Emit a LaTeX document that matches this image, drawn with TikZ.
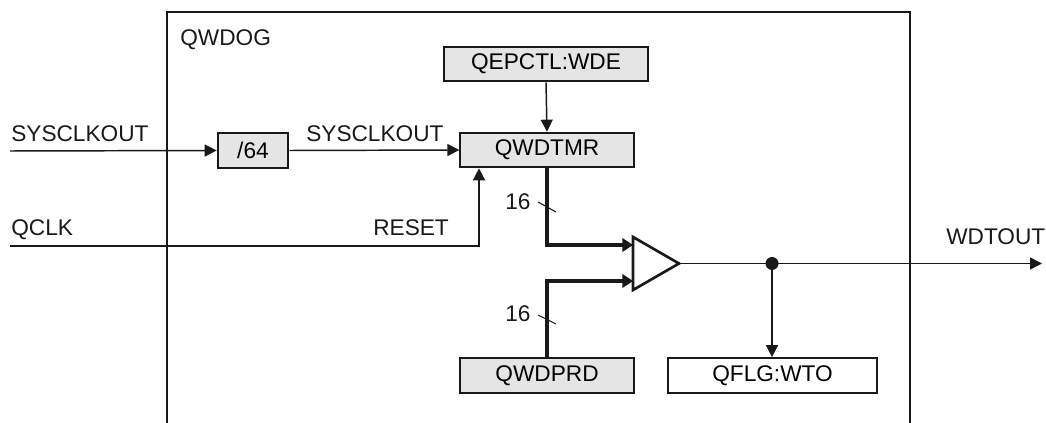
\documentclass[tikz,border=0pt]{standalone}
\usepackage{fontspec}
\setmainfont{Liberation Sans}
\usetikzlibrary{arrows.meta}
\begin{document}
\begin{tikzpicture}[x=0.75pt,y=-0.75pt,
  every node/.style={font=\fontsize{17}{20}\selectfont, inner sep=0pt},
  gbox/.style={draw=black!90, line width=1.5pt, fill=black!10, minimum height=26pt},
  wbox/.style={draw=black!90, line width=1.5pt, fill=white, minimum height=26pt},
  sig/.style={line width=1.1pt, black!90, -{Triangle[length=9pt,width=9pt]}},
  bus/.style={line width=3.6pt, black!90, -{Triangle[length=8pt,width=10pt]}},
  lbl/.style={anchor=base west, text=black!90}]
\useasboundingbox (0,0) rectangle (1046,423);
% outer block
\draw[line width=1.5pt, black!90] (167,423) -- (167,12) -- (910,12) -- (910,423);
\node[lbl] (qwdog) at (180,46) {QWDOG};
% boxes
\node[gbox, minimum width=53pt] (div) at (253,150.5) {/64};
\node[gbox, minimum width=130pt] (tmr) at (547,150) {QWDTMR};
\node[gbox, minimum width=153pt] (ctl) at (546,64) {QEPCTL:WDE};
\node[gbox, minimum width=130pt] (prd) at (547,375.5) {QWDPRD};
\node[wbox, minimum width=157pt] (flg) at (772.5,375.5) {QFLG:WTO};
% labels
\node[lbl] (sysin) at (11,142) {SYSCLKOUT};
\node[lbl] (sysmid) at (306,142) {SYSCLKOUT};
\node[lbl] (qclk) at (11,236) {QCLK};
\node[lbl] (reset) at (373,236) {RESET};
\node[lbl] (wdt) at (946,245) {WDTOUT};
\node[lbl] (n1) at (505,210) {16};
\node[lbl] (n2) at (505,322) {16};
% coordinates
\coordinate (sysstart) at (10,151);
\coordinate (qstart) at (10,246);
\coordinate (qturn) at (479,246);
\coordinate (cmpT) at (633,237);
\coordinate (cmpB) at (633,290);
\coordinate (cmpO) at (679,263.5);
\coordinate (in1) at (633,245);
\coordinate (in2) at (633,281);
\coordinate (dot) at (772,263.5);
\coordinate (outend) at (1042,263.5);
% signals
\draw[sig] (sysstart) -- (div.west);
\draw[sig] (div.east) -- (tmr.west);
\draw[sig] (ctl.south) -- (tmr.north);
\draw[sig] (qstart) -- (qturn) -- (qturn |- tmr.south);
% buses
\draw[bus] (tmr.south) |- (in1);
\draw[bus] (prd.north) |- (in2);
\draw[line width=0.8pt, black!90] (538,202) -- (556,212);
\draw[line width=0.8pt, black!90] (538,315) -- (556,324);
% comparator
\draw[line width=2pt, black!90, line join=miter] (cmpT) -- (cmpO) -- (cmpB) -- cycle;
% output
\draw[sig] (cmpO) -- (outend);
\fill[black!90] (dot) circle (6.5);
\draw[sig] (dot) -- (dot |- flg.north);
\end{tikzpicture}
\end{document}
